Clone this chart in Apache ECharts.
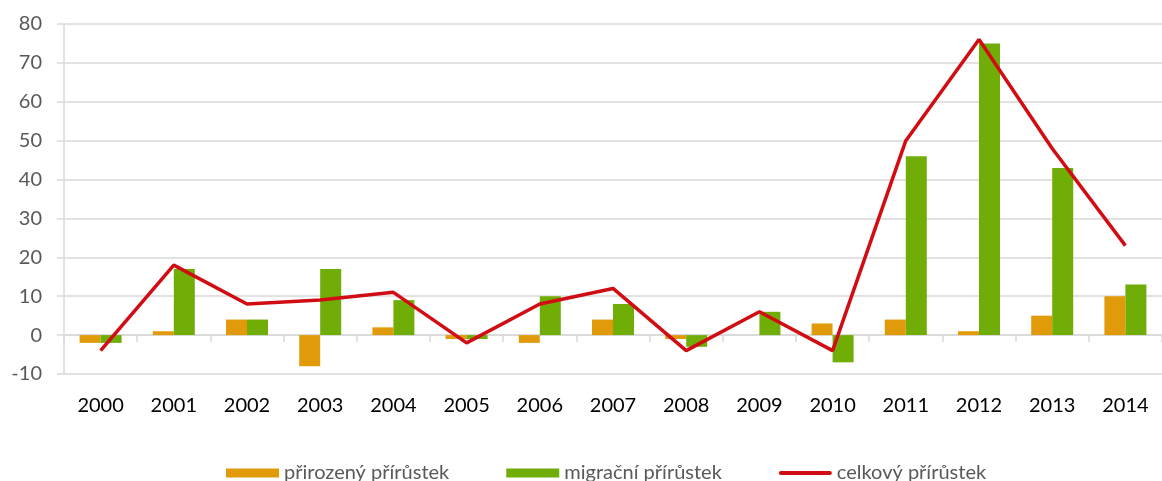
<!DOCTYPE html>
<html>
<head>
<meta charset="utf-8">
<script src="https://cdn.jsdelivr.net/npm/echarts@6/dist/echarts.min.js"></script>
<style>
  html, body { margin: 0; padding: 0; background: #fff; }
  #main { width: 1162px; height: 481px; }
</style>
</head>
<body>
<div id="main"></div>
<script>
var years = ['2000', '2001', '2002', '2003', '2004', '2005', '2006', '2007',
    '2008', '2009', '2010', '2011', '2012', '2013', '2014'];

// values
var prirozeny = [-2, 1, 4, -8, 2, -1, -2, 4, -1, 0, 3, 4, 1, 5, 10];
var migracni = [-2, 17, 4, 17, 9, -1, 10, 8, -3, 6, -7, 46, 75, 43, 13];
var celkovy = [-4, 18, 8, 9, 11, -2, 8, 12, -4, 6, -4, 50, 76, 48, 23];

var gridColor = '#d9d9d9';
var font = 'Lato, "Open Sans", sans-serif';

var option = {
    backgroundColor: '#fff',
    animation: false,
    grid: {
        left: 64,
        right: -10,
        top: 24,
        bottom: 107
    },
    legend: {
        top: 458,
        left: 221,
        itemWidth: 53,
        itemHeight: 9,
        itemGap: 57,
        textStyle: {
            fontFamily: font,
            fontSize: 20,
            color: '#595959'
        },
        data: [
            { name: 'přirozený přírůstek', icon: 'rect' },
            { name: 'migrační přírůstek', icon: 'rect' },
            {
                name: 'celkový přírůstek',
                // thin line inside the same 53x9 box
                icon: 'path://M0,0 M2,2.5 L51,2.5 A2,2 0 0 1 51,6.5 L2,6.5 A2,2 0 0 1 2,2.5 Z M53,9'
            }
        ]
    },
    xAxis: [{
        // labels at the bottom
        type: 'category',
        data: years,
        position: 'bottom',
        axisLine: { show: false, onZero: false },
        axisTick: { show: false },
        splitLine: { show: false },
        axisLabel: {
            margin: 22,
            fontFamily: font,
            fontSize: 20,
            color: '#000'
        }
    }, {
        // line with ticks through zero
        type: 'category',
        data: years,
        position: 'bottom',
        axisLine: {
            onZero: true,
            lineStyle: { color: gridColor, width: 1.5 }
        },
        axisTick: {
            show: true,
            length: 7,
            lineStyle: { color: gridColor, width: 1.5 }
        },
        axisLabel: { show: false },
        splitLine: { show: false }
    }],
    yAxis: {
        type: 'value',
        min: -10,
        max: 80,
        interval: 10,
        axisLine: {
            show: true,
            lineStyle: { color: gridColor, width: 1.5 }
        },
        axisTick: {
            show: true,
            length: 7,
            lineStyle: { color: gridColor, width: 1.5 }
        },
        splitLine: {
            lineStyle: { color: gridColor, width: 1.5 }
        },
        axisLabel: {
            margin: 22,
            fontFamily: font,
            fontSize: 20,
            color: '#595959'
        }
    },
    series: [{
        name: 'přirozený přírůstek',
        type: 'bar',
        barWidth: 21,
        barGap: 0,
        itemStyle: { color: '#e19b0a' },
        data: prirozeny
    }, {
        name: 'migrační přírůstek',
        type: 'bar',
        barWidth: 21,
        barGap: 0,
        itemStyle: { color: '#71ad07' },
        data: migracni
    }, {
        name: 'celkový přírůstek',
        type: 'line',
        symbol: 'none',
        lineStyle: { color: '#d10c13', width: 3.5 },
        itemStyle: { color: '#d10c13' },
        z: 5,
        data: celkovy
    }]
};

var myChart = echarts.init(document.getElementById('main'));
myChart.setOption(option);
</script>
</body>
</html>
